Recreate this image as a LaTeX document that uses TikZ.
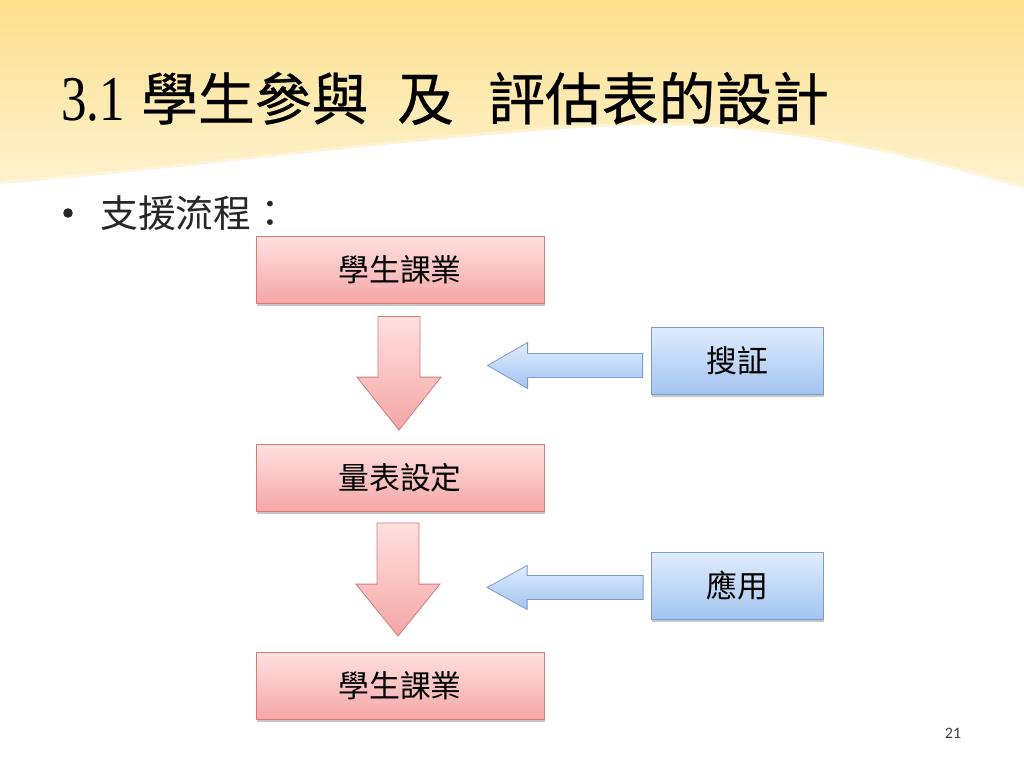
\documentclass[tikz,border=0pt]{standalone}
\usepackage{fontspec}
\setmainfont{Liberation Serif}
\newfontfamily\cjk{Noto Sans CJK TC}
\newfontfamily\cjktitle[FakeBold=0.5]{Noto Sans CJK TC}
\newfontfamily\numfont{Carlito}
\usetikzlibrary{shadows,calc}
\definecolor{bgtop}{RGB}{251,224,142}
\definecolor{bgbot}{RGB}{254,242,206}
\definecolor{pinktop}{RGB}{255,224,224}
\definecolor{pinkbot}{RGB}{245,166,166}
\definecolor{pinkline}{RGB}{214,122,122}
\definecolor{bluetop}{RGB}{224,236,253}
\definecolor{bluebot}{RGB}{163,196,240}
\definecolor{blueline}{RGB}{120,156,208}
\definecolor{txtgray}{RGB}{38,38,38}
\definecolor{pggray}{RGB}{64,64,64}
\tikzset{
  ttl/.style={inner sep=0pt, anchor=base west, text=black},
  pinkbox/.style={draw=pinkline, line width=0.8bp, top color=pinktop, bottom color=pinkbot,
    minimum width=288bp, minimum height=67bp, inner sep=0pt,
    font=\cjk\fontsize{31}{31}\selectfont,
    drop shadow={shadow xshift=0.5bp, shadow yshift=-2.5bp, opacity=0.22, fill=black}},
  bluebox/.style={draw=blueline, line width=0.8bp, top color=bluetop, bottom color=bluebot,
    minimum width=172bp, minimum height=67bp, inner sep=0pt,
    font=\cjk\fontsize{31}{31}\selectfont,
    drop shadow={shadow xshift=0.5bp, shadow yshift=-2.5bp, opacity=0.22, fill=black}},
  pinkarrow/.style={draw=pinkline, line width=0.8bp, top color=pinktop, bottom color=pinkbot, line join=miter},
  bluearrow/.style={draw=blueline, line width=0.8bp, top color=bluetop, bottom color=bluebot, line join=miter}
}
\newcommand{\numtxt}{\scalebox{0.8}[1]{\fontsize{64}{64}\selectfont 3.1}}
\begin{document}
\begin{tikzpicture}[x=1bp,y=-1bp]
\useasboundingbox (0,0) rectangle (1024,768);
\fill[white] (0,0) rectangle (1024,768);
% background wave
\shade[top color=bgtop, bottom color=bgbot] (0,0) -- (1024,0) -- (1024,189)
  .. controls (900,152) and (760,120) .. (620,126)
  .. controls (450,133) and (200,168) .. (0,184) -- cycle;
\draw[white, line width=6bp, opacity=0.35] (1024,189)
  .. controls (900,152) and (760,120) .. (620,126)
  .. controls (450,133) and (200,168) .. (0,184);
% title
\node[ttl] (t1) at (61,120) {\numtxt};
\node[ttl] (t2) at (141,120) {\cjktitle\fontsize{57}{57}\selectfont 學生參與};
\node[ttl] (t3) at (397,120) {\cjktitle\fontsize{57}{57}\selectfont 及};
\node[ttl] (t4) at (488,120) {\cjktitle\fontsize{57}{57}\selectfont 評估表的設計};
% bullet
\fill[txtgray] (68,213) circle (4.8);
\node[inner sep=0pt, anchor=base west, text=txtgray] (bt) at (100,227) {\cjk\fontsize{38}{38}\selectfont 支援流程：};
% boxes
\node[pinkbox] (b1) at (400,269.5) {學生課業};
\node[pinkbox] (b2) at (400,478) {量表設定};
\node[pinkbox] (b3) at (400,686) {學生課業};
\node[bluebox] (u1) at (737,360.5) {搜証};
\node[bluebox] (u2) at (737.5,586) {應用};
% down arrows
\coordinate (d1s) at ($(b1.south)+(-1,13)$);
\coordinate (d1e) at ($(b2.north)+(-1,-14)$);
\draw[pinkarrow] ($(d1s)+(-21,0)$) -- ($(d1s)+(21,0)$) -- ($(d1e)+(21,-53)$) -- ($(d1e)+(42,-53)$)
  -- (d1e) -- ($(d1e)+(-42,-53)$) -- ($(d1e)+(-21,-53)$) -- cycle;
\coordinate (d2s) at ($(b2.south)+(-2,11)$);
\coordinate (d2e) at ($(b3.north)+(-2,-16)$);
\draw[pinkarrow] ($(d2s)+(-21,0)$) -- ($(d2s)+(21,0)$) -- ($(d2e)+(21,-52)$) -- ($(d2e)+(42,-52)$)
  -- (d2e) -- ($(d2e)+(-42,-52)$) -- ($(d2e)+(-21,-52)$) -- cycle;
% left arrows
\coordinate (l1s) at ($(u1.west)+(-8,5)$);
\coordinate (l1e) at ($(u1.west)+(-163,5)$);
\draw[bluearrow] ($(l1s)+(0,-12)$) -- ($(l1e)+(40,-12)$) -- ($(l1e)+(40,-23)$) -- (l1e)
  -- ($(l1e)+(40,23)$) -- ($(l1e)+(40,12)$) -- ($(l1s)+(0,12)$) -- cycle;
\coordinate (l2s) at ($(u2.west)+(-8,1.5)$);
\coordinate (l2e) at ($(u2.west)+(-164,1.5)$);
\draw[bluearrow] ($(l2s)+(0,-12)$) -- ($(l2e)+(40,-12)$) -- ($(l2e)+(40,-22)$) -- (l2e)
  -- ($(l2e)+(40,22)$) -- ($(l2e)+(40,12)$) -- ($(l2s)+(0,12)$) -- cycle;
% page number
\node[inner sep=0pt, text=pggray] (pg) at (953,733) {\numfont\fontsize{16}{16}\selectfont 21};
\end{tikzpicture}
\end{document}
